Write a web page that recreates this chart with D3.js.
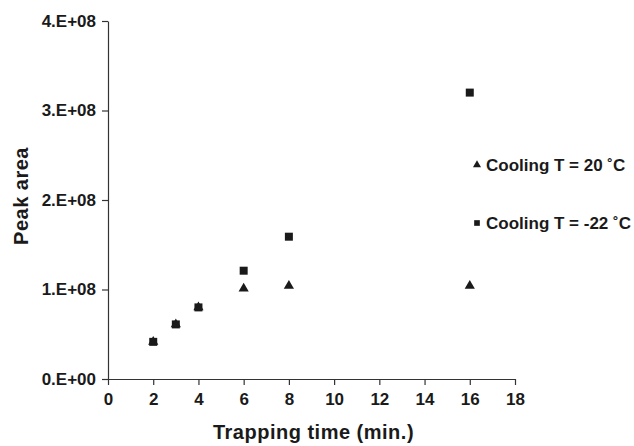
<!DOCTYPE html>
<html lang="en">
<head>
    <meta charset="UTF-8">
    <title>Peak area vs trapping time</title>
    <script src="https://cdn.jsdelivr.net/npm/d3@7"></script>
    <style>
        body { margin: 0; background: #fff; }
        svg { display: block; font-family: "Liberation Sans", Arial, sans-serif; }
        .axis path, .axis line { stroke: #333; stroke-width: 1.2px; }
        .axis text { font-size: 17px; font-weight: bold; fill: #1a1a1a; }
    </style>
</head>
<body>
<script>
    // data
    const times = [2, 3, 4, 6, 8, 16];
    const warm = [4.15e7, 6.1e7, 8.0e7, 1.01e8, 1.04e8, 1.04e8];   // Cooling T = 20 °C
    const cold = [4.15e7, 6.1e7, 8.0e7, 1.21e8, 1.59e8, 3.2e8];    // Cooling T = -22 °C
    const xTicks = [0, 2, 4, 6, 8, 10, 12, 14, 16, 18];
    const yTicks = [0, 1e8, 2e8, 3e8, 4e8];
    const yLabels = ["0.E+00", "1.E+08", "2.E+08", "3.E+08", "4.E+08"];
    const legendNames = ["Cooling T = 20 \u02DAC", "Cooling T = -22 \u02DAC"];

    const width = 634, height = 446;
    const margin = { top: 21, right: 119, bottom: 67, left: 108 };

    const svg = d3.select("body").append("svg")
        .attr("width", width)
        .attr("height", height);

    const x = d3.scaleLinear().domain([0, 18]).range([margin.left, width - margin.right]);
    const y = d3.scaleLinear().domain([0, 4e8]).range([height - margin.bottom, margin.top]);

    // axes
    svg.append("g")
        .attr("class", "axis")
        .attr("transform", `translate(0,${height - margin.bottom})`)
        .call(d3.axisBottom(x).tickValues(xTicks).tickSize(6).tickSizeOuter(0).tickPadding(8));

    svg.append("g")
        .attr("class", "axis")
        .attr("transform", `translate(${margin.left},0)`)
        .call(d3.axisLeft(y).tickValues(yTicks).tickFormat((d, i) => yLabels[i]).tickSize(6).tickSizeOuter(0).tickPadding(6));

    // axis titles
    svg.append("text")
        .attr("x", (x(0) + x(18)) / 2 + 2)
        .attr("y", 439)
        .attr("text-anchor", "middle")
        .style("font-size", "20px").style("font-weight", "bold").style("fill", "#1a1a1a")
        .style("letter-spacing", "0.5px")
        .text("Trapping time (min.)");

    svg.append("text")
        .attr("transform", `translate(28,196) rotate(-90)`)
        .attr("text-anchor", "middle")
        .style("font-size", "20px").style("font-weight", "bold").style("fill", "#1a1a1a")
        .style("letter-spacing", "0.5px")
        .text("Peak area");

    const tri = d3.symbol().type(d3.symbolTriangle).size(45);
    const sq = d3.symbol().type(d3.symbolSquare).size(64);

    // -22 °C squares
    svg.append("g").selectAll("path")
        .data(times.map((t, i) => [t, cold[i]]))
        .join("path")
        .attr("transform", d => `translate(${x(d[0])},${y(d[1])})`)
        .attr("d", sq)
        .attr("fill", "#1a1a1a");

    // 20 °C triangles
    svg.append("g").selectAll("path")
        .data(times.map((t, i) => [t, warm[i]]))
        .join("path")
        .attr("transform", d => `translate(${x(d[0])},${y(d[1])})`)
        .attr("d", tri)
        .attr("fill", "#1a1a1a");

    // legend
    const legend = svg.append("g");
    const symbols = [d3.symbol().type(d3.symbolTriangle).size(28), d3.symbol().type(d3.symbolSquare).size(32)];
    legendNames.forEach((name, i) => {
        const ly = 165 + i * 58;
        legend.append("path")
            .attr("transform", `translate(477,${ly})`)
            .attr("d", symbols[i])
            .attr("fill", "#1a1a1a");
        legend.append("text")
            .attr("x", 486)
            .attr("y", ly + 6)
            .style("font-size", "17px").style("font-weight", "bold").style("fill", "#1a1a1a")
            .text(name);
    });
</script>
</body>
</html>
